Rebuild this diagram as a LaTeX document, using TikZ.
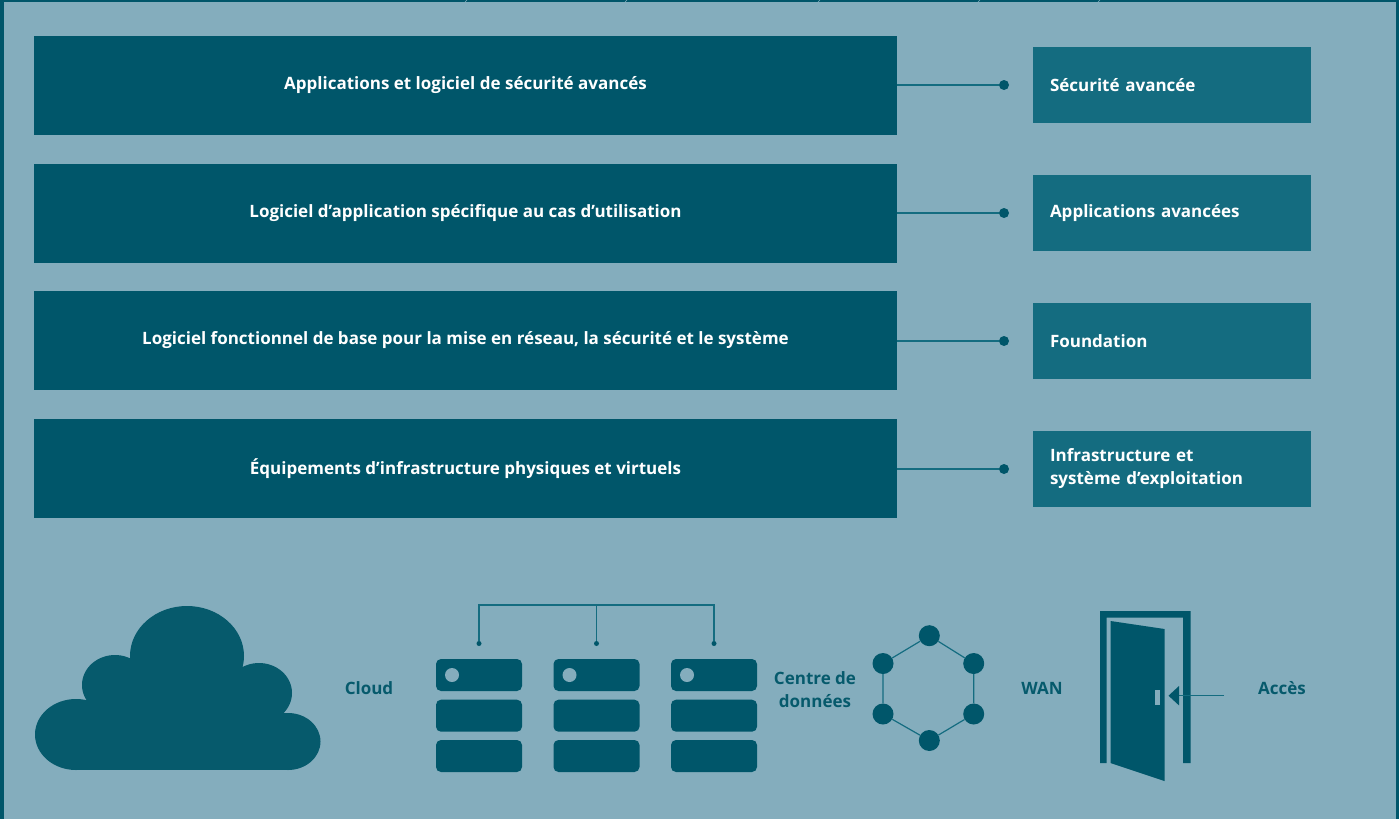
\documentclass[tikz,border=0pt]{standalone}
\usepackage{fontspec}
\setmainfont{Open Sans}
\newcommand{\apos}{\symbol{39}}
\definecolor{bgc}{HTML}{84ADBD}
\definecolor{darkc}{HTML}{00566A}
\definecolor{midc}{HTML}{146C80}
\definecolor{cloudc}{HTML}{065A6C}
\tikzset{
  x=1pt,y=-1pt,
  mainbox/.style={fill=darkc,text=white,font=\fontsize{17}{23}\selectfont\bfseries,minimum width=863pt,minimum height=99pt,inner sep=0pt,align=center},
  tagbox/.style={fill=midc,text=white,font=\fontsize{17}{23}\selectfont\bfseries,minimum width=278pt,minimum height=76pt,inner sep=0pt,text width=244pt,align=left},
  tagdot/.style={circle,fill=darkc,minimum size=10pt,inner sep=0pt},
  wire/.style={draw=midc,line width=1.5pt},
  lab/.style={text=cloudc,font=\fontsize{17}{23}\selectfont\bfseries,align=center,inner sep=0pt},
  srv/.style={fill=darkc,rounded corners=5pt},
  hexn/.style={circle,fill=darkc,minimum size=21pt,inner sep=0pt},
  tapdot/.style={circle,fill=darkc,minimum size=5pt,inner sep=0pt}
}
\begin{document}
\begin{tikzpicture}
\useasboundingbox (0,0) rectangle (1399,819);
\fill[bgc] (0,0) rectangle (1399,819);
\fill[darkc] (0,0) rectangle (1399,2);
\fill[darkc] (0,0) rectangle (4,819);
\fill[darkc] (1396,0) rectangle (1399,819);
\foreach \tx in {467,627,820,980,1100} \draw[bgc,line width=.6pt] (\tx,0) -- (\tx-2,2);

\node[mainbox] (m1) at (465.5,85.5) {Applications et logiciel de sécurité avancés};
\node[mainbox] (m2) at (465.5,213.5) {Logiciel d\apos application spécifique au cas d\apos utilisation};
\node[mainbox] (m3) at (465.5,340.5) {Logiciel fonctionnel de base pour la mise en réseau, la sécurité et le système};
\node[mainbox] (m4) at (465.5,468.5) {Équipements d\apos infrastructure physiques et virtuels};

\node[tagbox] (t1) at (1172,85) {Sécurité avancée};
\node[tagbox] (t2) at (1172,213) {Applications avancées};
\node[tagbox] (t3) at (1172,341) {Foundation};
\node[tagbox] (t4) at (1172,469) {Infrastructure et\\système d\apos exploitation};

\foreach \i/\yy in {1/85,2/213,3/341,4/469}{
  \node[tagdot] (d\i) at (1004,\yy) {};
  \draw[wire] (m\i.east |- d\i) -- (d\i);
}

% cloud
\fill[cloudc] (76,734.5) ellipse (41 and 35.5);
\fill[cloudc] (288,741.5) ellipse (32.5 and 28.5);
\fill[cloudc] (187,656) ellipse (57 and 50);
\fill[cloudc] (115,685) ellipse (33 and 30);
\fill[cloudc] (259,693) ellipse (33 and 30);
\fill[cloudc] (76,713) rectangle (288,770);
\fill[cloudc] (76,700) rectangle (275,713);
\fill[cloudc] (120,670) rectangle (260,700);
\node[lab] (cl) at (369,688.5) {Cloud};

% servers
\foreach \k/\xx in {a/436,b/553.5,c/671}{
  \fill[srv] (\xx,659) rectangle (\xx+86,691);
  \fill[srv] (\xx,699.7) rectangle (\xx+86,731.7);
  \fill[srv] (\xx,740) rectangle (\xx+86,772);
  \fill[bgc] (\xx+16,675) circle (7);
  \node[tapdot] (p\k) at (\xx+43,643.5) {};
}
\coordinate (ba) at (pa |- 0,605);
\coordinate (bb) at (pb |- 0,605);
\coordinate (bc) at (pc |- 0,605);
\draw[wire,line width=1.2pt] (pa) -- (ba) -- (bc) -- (pc);
\draw[wire,line width=1.2pt] (bb) -- (pb);
\node[lab] (dc) at (815,690) {Centre de\\données};

% hexagon
\node[hexn] (h1) at (929.3,635.7) {};
\node[hexn] (h2) at (973.7,663.5) {};
\node[hexn] (h3) at (973.7,714) {};
\node[hexn] (h4) at (929.3,740.5) {};
\node[hexn] (h5) at (883,714) {};
\node[hexn] (h6) at (883,663.5) {};
\draw[wire,line width=1.2pt] (h1) -- (h2) -- (h3) -- (h4) -- (h5) -- (h6) -- (h1);
\node[lab] (wan) at (1042,688.5) {WAN};

% door
\fill[darkc] (1100,763) -- (1100,611) -- (1190.5,611) -- (1190.5,763) -- (1183,763) -- (1183,617.5) -- (1106.5,617.5) -- (1106.5,763) -- cycle;
\fill[darkc] (1110.5,621) -- (1164.5,629) -- (1164.5,781) -- (1110.5,763) -- cycle;
\fill[bgc] (1155,690) rectangle (1160,705);
\coordinate (ae) at (1224,695.7);
\coordinate (ab) at (1178,695.7);
\draw[wire,line width=1.2pt] (ae) -- (ab);
\fill[darkc] (1168.5,695.7) -- (1179,686) -- (1179,705.4) -- cycle;
\node[lab] (acc) at (1282,688.5) {Accès};
\end{tikzpicture}
\end{document}
